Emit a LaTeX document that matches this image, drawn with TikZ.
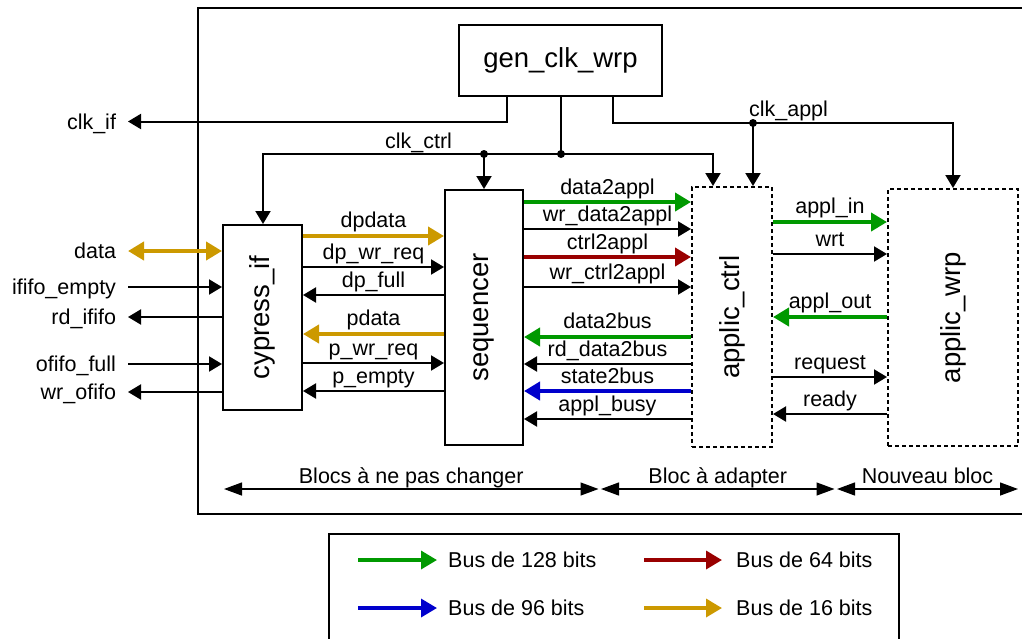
\documentclass[tikz,border=0pt]{standalone}
\usepackage{fontspec}
\setmainfont{Liberation Sans}
\usetikzlibrary{arrows.meta}
\definecolor{bgreen}{RGB}{0,153,0}
\definecolor{bred}{RGB}{153,0,0}
\definecolor{bblue}{RGB}{0,0,204}
\definecolor{bgold}{RGB}{204,153,0}

\begin{document}
\begin{tikzpicture}[x=1pt,y=-1pt,
  lbl/.style={font=\fontsize{21.5}{24}\selectfont, inner sep=0pt},
  blk/.style={draw, line width=2pt, font=\fontsize{27.5}{30}\selectfont, inner sep=0pt},
  dblk/.style={blk, dash pattern=on 4pt off 3pt},
  wire/.style={line width=2pt, >={Triangle[length=13pt,width=15pt]}},
  bus/.style={line width=4pt, draw=#1, >={Triangle[length=16pt,width=18pt]}},
  sname/.style={lbl, midway, anchor=base, yshift=7.5pt},
  bname/.style={lbl, midway, anchor=base, yshift=8.5pt},
  ext/.style={lbl, anchor=east, text height=15pt, text depth=0pt, outer xsep=12pt},
  span/.style={line width=1.3pt, {Triangle[length=18pt,width=13pt]}-{Triangle[length=18pt,width=13pt]}},
  dot/.style={circle, fill, inner sep=0pt, minimum size=8pt},
]
\useasboundingbox (0,0) rectangle (1022,638);
\clip (0,0) rectangle (1022,638);

% outer frame of the design
\draw[line width=2pt] (198,8) rectangle (1040,514);

% blocks
\node[blk, minimum width=203pt, minimum height=71pt] (gen) at (560.5,60.5) {gen\_clk\_wrp};
\node[blk, minimum width=79pt, minimum height=185pt] (cyp) at (262.5,317.5) {\rotatebox{90}{cypress\_if}};
\node[blk, minimum width=78pt, minimum height=255pt] (seq) at (484,317.5) {\rotatebox{90}{sequencer}};
\node[dblk, minimum width=80pt, minimum height=260pt] (ctrl) at (732,317) {\rotatebox{90}{applic\_ctrl}};
\node[dblk, minimum width=130pt, minimum height=257pt] (wrp) at (953,317.5) {\rotatebox{90}{applic\_wrp}};

% clock distribution
\node[ext] (clkif) at (128,121.5) {clk\_if};
\draw[wire,->] (gen.south -| 507,0) |- (clkif.east);

\coordinate (jc) at (561,154);
\coordinate (js) at (seq.north |- jc);
\draw[wire] (gen.south -| jc) -- (jc);
\draw[wire,->] (jc) -| (cyp.north -| 263,0);
\draw[wire,->] (jc) -| (ctrl.north -| 713,0);
\draw[wire,->] (js) -- (seq.north);
\node[dot] (djc) at (jc) {};
\node[dot] (djs) at (js) {};
\node[lbl, anchor=base] (tclkctrl) at (418.5,148) {clk\_ctrl};

\coordinate (ja) at (753,123);
\draw[wire,->] (gen.south -| 613,0) |- (ja) -| (wrp.north);
\draw[wire,->] (ja) -- (ctrl.north -| ja);
\node[dot] (dja) at (ja) {};
\node[lbl, anchor=base] (tclkappl) at (788.5,116) {clk\_appl};

% external ports of cypress_if
\node[ext] (ldata) at (128,251) {data};
\node[ext] (liem) at (128,287) {ififo\_empty};
\node[ext] (lrdi) at (128,317) {rd\_ififo};
\node[ext] (lofu) at (128,364) {ofifo\_full};
\node[ext] (lwro) at (128,392) {wr\_ofifo};
\draw[bus=bgold,<->] (ldata.east) -- (cyp.west |- ldata.east);
\draw[wire,->] (liem.east) -- (cyp.west |- liem.east);
\draw[wire,->] (cyp.west |- lrdi.east) -- (lrdi.east);
\draw[wire,->] (lofu.east) -- (cyp.west |- lofu.east);
\draw[wire,->] (cyp.west |- lwro.east) -- (lwro.east);

% cypress_if <-> sequencer
\draw[bus=bgold,->] (cyp.east |- 0,236) -- (seq.west |- 0,236) node[bname] {dpdata};
\draw[wire,->] (cyp.east |- 0,267) -- (seq.west |- 0,267) node[sname] {dp\_wr\_req};
\draw[wire,<-] (cyp.east |- 0,295) -- (seq.west |- 0,295) node[sname] {dp\_full};
\draw[bus=bgold,<-] (cyp.east |- 0,334) -- (seq.west |- 0,334) node[bname] {pdata};
\draw[wire,->] (cyp.east |- 0,363) -- (seq.west |- 0,363) node[sname] {p\_wr\_req};
\draw[wire,<-] (cyp.east |- 0,391) -- (seq.west |- 0,391) node[sname] {p\_empty};

% sequencer <-> applic_ctrl
\draw[bus=bgreen,->] (seq.east |- 0,202) -- (ctrl.west |- 0,202) node[sname] {data2appl};
\draw[wire,->] (seq.east |- 0,229) -- (ctrl.west |- 0,229) node[sname] {wr\_data2appl};
\draw[bus=bred,->] (seq.east |- 0,257) -- (ctrl.west |- 0,257) node[sname] {ctrl2appl};
\draw[wire,->] (seq.east |- 0,287) -- (ctrl.west |- 0,287) node[sname] {wr\_ctrl2appl};
\draw[bus=bgreen,<-] (seq.east |- 0,337) -- (ctrl.west |- 0,337) node[bname] {data2bus};
\draw[wire,<-] (seq.east |- 0,364) -- (ctrl.west |- 0,364) node[sname] {rd\_data2bus};
\draw[bus=bblue,<-] (seq.east |- 0,391) -- (ctrl.west |- 0,391) node[sname] {state2bus};
\draw[wire,<-] (seq.east |- 0,419) -- (ctrl.west |- 0,419) node[sname] {appl\_busy};

% applic_ctrl <-> applic_wrp
\draw[bus=bgreen,->] (ctrl.east |- 0,222) -- (wrp.west |- 0,222) node[bname] {appl\_in};
\draw[wire,->] (ctrl.east |- 0,254) -- (wrp.west |- 0,254) node[sname] {wrt};
\draw[bus=bgreen,<-] (ctrl.east |- 0,317) -- (wrp.west |- 0,317) node[bname] {appl\_out};
\draw[wire,->] (ctrl.east |- 0,377) -- (wrp.west |- 0,377) node[sname] {request};
\draw[wire,<-] (ctrl.east |- 0,414) -- (wrp.west |- 0,414) node[sname] {ready};

% extent of each group of blocks
\coordinate (s0) at (224,489);
\coordinate (s1) at (598.5,489);
\coordinate (s2) at (601,489);
\coordinate (s3) at (834.5,489);
\coordinate (s4) at (837,489);
\coordinate (s5) at (1018,489);
\draw[span] (s0) -- (s1) node[lbl, midway, anchor=base, yshift=6pt] {Blocs à ne pas changer};
\draw[span] (s2) -- (s3) node[lbl, midway, anchor=base, yshift=6pt] {Bloc à adapter};
\draw[span] (s4) -- (s5) node[lbl, midway, anchor=base, yshift=6pt] {Nouveau bloc};

% legend
\draw[line width=2pt] (329,534) rectangle (899,660);
\coordinate (g0) at (358,560); \coordinate (g1) at (437,560);
\coordinate (r0) at (644,560); \coordinate (r1) at (722,560);
\coordinate (u0) at (358,608); \coordinate (u1) at (437,608);
\coordinate (o0) at (644,608); \coordinate (o1) at (722,608);
\draw[bus=bgreen,line width=3.5pt,->] (g0) -- (g1);
\draw[bus=bred,line width=3.5pt,->] (r0) -- (r1);
\draw[bus=bblue,line width=3.5pt,->] (u0) -- (u1);
\draw[bus=bgold,line width=3.5pt,->] (o0) -- (o1);
\node[lbl, anchor=base west] (t128) at (448,567.5) {Bus de 128 bits};
\node[lbl, anchor=base west] (t64) at (736,567.5) {Bus de 64 bits};
\node[lbl, anchor=base west] (t96) at (448,615.5) {Bus de 96 bits};
\node[lbl, anchor=base west] (t16) at (736,615.5) {Bus de 16 bits};
\end{tikzpicture}
\end{document}
